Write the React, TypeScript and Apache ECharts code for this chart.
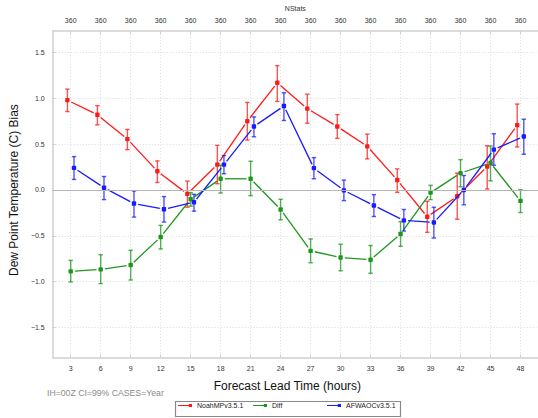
import { useEffect, useRef } from "react";
import * as echarts from "echarts";

const hours = [3, 6, 9, 12, 15, 18, 21, 24, 27, 30, 33, 36, 39, 42, 45, 48];
const nStats = [360, 360, 360, 360, 360, 360, 360, 360, 360, 360, 360, 360, 360, 360, 360, 360];
const yTicks = [-1.5, -1.0, -0.5, 0.0, 0.5, 1.0, 1.5];
const seriesNames = ["NoahMPv3.5.1", "Diff", "AFWAOCv3.5.1"];

const noahMean = [0.98, 0.82, 0.555, 0.205, -0.043, 0.277, 0.75, 1.169, 0.887, 0.692, 0.476, 0.108, -0.292, -0.069, 0.256, 0.707];
const noahLow = [0.855, 0.71, 0.44, 0.082, -0.188, 0.068, 0.544, 0.966, 0.728, 0.563, 0.339, -0.026, -0.462, -0.32, 0.011, 0.469];
const noahHigh = [1.1, 0.92, 0.66, 0.317, 0.097, 0.487, 0.955, 1.356, 1.045, 0.822, 0.609, 0.23, -0.123, 0.184, 0.483, 0.937];

const diffMean = [-0.888, -0.866, -0.819, -0.513, -0.101, 0.122, 0.122, -0.213, -0.664, -0.736, -0.761, -0.48, -0.029, 0.184, 0.295, -0.119];
const diffLow = [-1.003, -1.021, -0.982, -0.643, -0.177, -0.033, -0.062, -0.325, -0.794, -0.881, -0.909, -0.614, -0.105, 0.036, 0.1, -0.246];
const diffHigh = [-0.768, -0.707, -0.657, -0.386, -0.029, 0.27, 0.313, -0.101, -0.534, -0.592, -0.606, -0.346, 0.05, 0.331, 0.479, 0.003];

const afwaMean = [0.241, 0.025, -0.148, -0.21, -0.134, 0.277, 0.692, 0.916, 0.238, -0.004, -0.17, -0.332, -0.354, 0.0, 0.44, 0.584];
const afwaLow = [0.115, -0.105, -0.296, -0.35, -0.231, 0.177, 0.58, 0.758, 0.122, -0.116, -0.289, -0.448, -0.524, -0.162, 0.27, 0.39];
const afwaHigh = [0.364, 0.147, -0.011, -0.072, -0.047, 0.375, 0.797, 1.06, 0.353, 0.108, -0.051, -0.213, -0.188, 0.158, 0.613, 0.772];

const FONT = "Liberation Sans";
const ICON = "path://M0,2.5L10.5,2.5L10.5,3.5L0,3.5Z M10,1.5L13,1.5L13,4.5L10,4.5Z";
const legendLefts = [178, 253, 327];

function makeSeries(name: string, color: string, offset: number, mean: number[], low: number[], high: number[], extra: any = {}) {
  return {
    type: "custom",
    name,
    coordinateSystem: "cartesian2d",
    xAxisIndex: 0,
    yAxisIndex: 0,
    itemStyle: { color },
    encode: { x: 0, y: [1, 2, 3] },
    data: hours.map((h, i) => [h + offset, mean[i], low[i], high[i]]),
    renderItem: (params: any, api: any) => {
      const i = params.dataIndex;
      const x = api.value(0);
      const p = api.coord([x, api.value(1)]);
      const pl = api.coord([x, api.value(2)]);
      const ph = api.coord([x, api.value(3)]);
      const cap = 2.2;
      const children: any[] = [];
      const ebStyle = { stroke: color, lineWidth: 1.4, opacity: 0.75 };
      children.push({ type: "line", shape: { x1: pl[0], y1: pl[1], x2: ph[0], y2: ph[1] }, style: ebStyle });
      children.push({ type: "line", shape: { x1: pl[0] - cap, y1: pl[1], x2: pl[0] + cap, y2: pl[1] }, style: ebStyle });
      children.push({ type: "line", shape: { x1: ph[0] - cap, y1: ph[1], x2: ph[0] + cap, y2: ph[1] }, style: ebStyle });
      if (i < hours.length - 1) {
        const q = api.coord([hours[i + 1] + offset, mean[i + 1]]);
        const dx = q[0] - p[0];
        const dy = q[1] - p[1];
        const len = Math.hypot(dx, dy);
        const g = 4.2;
        if (len > 2 * g) {
          children.push({
            type: "line",
            shape: { x1: p[0] + (dx * g) / len, y1: p[1] + (dy * g) / len, x2: q[0] - (dx * g) / len, y2: q[1] - (dy * g) / len },
            style: { stroke: color, lineWidth: 1.3 },
          });
        }
      }
      children.push({ type: "rect", shape: { x: p[0] - 2.2, y: p[1] - 2.2, width: 4.4, height: 4.4, r: 0.8 }, style: { fill: color } });
      return { type: "group", children };
    },
    ...extra,
  };
}

export default function App() {
  const ref = useRef<HTMLDivElement>(null);
  useEffect(() => {
    if (!ref.current) return;
    const chart = echarts.init(ref.current, null, { renderer: "svg" });
    const xBase = {
      type: "value",
      min: 1.2,
      max: 49.75,
      axisLine: { show: true, onZero: false, lineStyle: { color: "#cfcfcf", width: 1.5 } },
      axisTick: { show: true, inside: true, length: 3, customValues: hours, lineStyle: { color: "#cfcfcf" } },
    };
    chart.setOption({
      animation: false,
      backgroundColor: "#ffffff",
      textStyle: { fontFamily: FONT },
      grid: { left: 47.3, top: 28.3, width: 492, height: 329 },
      xAxis: [
        {
          ...xBase,
          position: "bottom",
          name: "Forecast Lead Time (hours)",
          nameLocation: "middle",
          nameGap: 23,
          nameTextStyle: { fontFamily: FONT, fontSize: 12, color: "#111", padding: [0, 16, 0, 0] },
          axisLabel: { customValues: hours, fontFamily: FONT, fontSize: 7, color: "#333", margin: 8 },
          splitLine: { show: true, lineStyle: { color: "#dddddd", type: [1, 2], width: 1 } },
        },
        {
          ...xBase,
          position: "top",
          name: "NStats",
          nameLocation: "middle",
          nameGap: 16,
          nameTextStyle: { fontFamily: FONT, fontSize: 7, color: "#333" },
          axisLabel: {
            customValues: hours,
            fontFamily: FONT,
            fontSize: 7,
            color: "#333",
            margin: 7,
            formatter: (v: number) => String(nStats[hours.indexOf(v)] ?? ""),
          },
          splitLine: { show: false },
        },
      ],
      yAxis: {
        type: "value",
        min: -1.825,
        max: 1.735,
        name: "Dew Point Temperature (C) Bias",
        nameLocation: "middle",
        nameGap: 28,
        nameTextStyle: { fontFamily: FONT, fontSize: 12, color: "#111", padding: [0, 0, 0, 8] },
        axisLine: { show: true, onZero: false, lineStyle: { color: "#cfcfcf", width: 1.5 } },
        axisTick: { show: true, inside: true, length: 3, customValues: yTicks, lineStyle: { color: "#cfcfcf" } },
        axisLabel: {
          customValues: yTicks,
          fontFamily: FONT,
          fontSize: 7,
          color: "#333",
          margin: 8,
          formatter: (v: number) => (v < 0 ? "\u2212" : "") + Math.abs(v).toFixed(1),
        },
        splitLine: { show: true, lineStyle: { color: "#dddddd", type: [1, 2], width: 1 } },
      },
      legend: seriesNames.map((n, k) => ({
        left: legendLefts[k],
        top: 402,
        padding: 0,
        itemGap: 5,
        itemWidth: 14,
        itemHeight: 4,
        textStyle: { fontFamily: FONT, fontSize: 7, color: "#222" },
        data: [{ name: n, icon: ICON }],
      })),
      graphic: [
        {
          type: "rect",
          left: 173,
          top: 399,
          shape: { width: 225, height: 15 },
          style: { fill: "none", stroke: "#8a8a8a", lineWidth: 1.2 },
        },
        {
          type: "text",
          left: 47,
          top: 388,
          style: { text: "IH=00Z CI=99% CASES=Year", fontFamily: FONT, fontSize: 8.7, fill: "#8a8a8a" },
        },
      ],
      series: [
        makeSeries(seriesNames[0], "#ff1a1a", -0.33, noahMean, noahLow, noahHigh, {
          markLine: {
            silent: true,
            symbol: "none",
            label: { show: false },
            lineStyle: { color: "#b5b5b5", type: "solid", width: 1 },
            data: [{ yAxis: 0 }],
          },
        }),
        makeSeries(seriesNames[1], "#1e961e", 0, diffMean, diffLow, diffHigh),
        makeSeries(seriesNames[2], "#1a1aff", 0.33, afwaMean, afwaLow, afwaHigh),
      ],
    });
    return () => chart.dispose();
  }, []);
  return <div ref={ref} style={{ position: "absolute", left: 0, top: 0, width: 538, height: 418 }} />;
}
